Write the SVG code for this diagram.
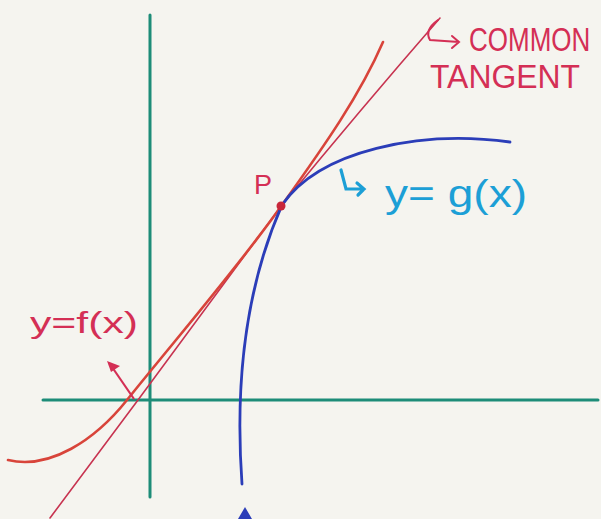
<svg xmlns="http://www.w3.org/2000/svg" width="601" height="519" viewBox="0 0 601 519">
<style>
.ax{stroke:#1d8c78;stroke-width:3;fill:none;stroke-linecap:round}
.f{stroke:#d8443a;stroke-width:2.6;fill:none;stroke-linecap:round}
.t{stroke:#c73350;stroke-width:1.6;fill:none;stroke-linecap:round}
.g{stroke:#2b3db8;stroke-width:2.8;fill:none;stroke-linecap:round}
.red{fill:#d42f55;font-family:"Liberation Sans",sans-serif}
.cyan{fill:#1c9fd6;font-family:"Liberation Sans",sans-serif}
</style>
<rect width="601" height="519" fill="#f5f4ef"/>
<g id="connectors">
<path id="x-axis" class="ax" d="M43 400 L598 400"/>
<path id="y-axis" class="ax" d="M150 15 L150 497"/>
<path id="tangent" class="t" d="M50 518 L138 400 L282 205 Q360 110 440 18"/>
<path id="f-curve" class="f" d="M8 460 C50 470 95 440 127 400 C175 340 240 265 282 205 C325 145 360 95 383 42"/>
<path id="g-curve" class="g" d="M242 484 C236 400 240 300 282 205 C320 150 420 130 510 142"/>
<path id="f-arrow" stroke="#d42f55" stroke-width="2.2" fill="none" d="M134 399 L112 367"/>
<path fill="#d42f55" d="M107 361 L120 366 L111 372 Z"/>
<path id="g-hook" stroke="#1c9fd6" stroke-width="3.2" fill="none" stroke-linecap="round" d="M341 170 L346 189 L364 189 M357 183 L364 189 L358 195"/>
<path id="tan-hook" stroke="#d42f55" stroke-width="2" fill="none" stroke-linecap="round" d="M438 20 Q424 30 430 40 L459 42 M452 36 L459 42 L452 48"/>
<path id="bottom-arrow" fill="#2b3db8" d="M245 507 L238 519 L252 519 Z"/>
</g>
<g id="P">
<circle cx="281" cy="206" r="4.5" fill="#c8263a"/>
<text class="red" x="254" y="194" font-size="27">P</text>
</g>
<g id="label-g">
<text class="cyan" x="385" y="207" font-size="38" textLength="142" lengthAdjust="spacingAndGlyphs">y= g(x)</text>
</g>
<g id="label-f">
<text class="red" x="30" y="333" font-size="30" textLength="108" lengthAdjust="spacingAndGlyphs">y=f(x)</text>
</g>
<g id="label-tangent">
<text class="red" transform="translate(469 51) scale(1 1.3)" x="0" y="0" font-size="26">COMMON</text>
<text class="red" x="430" y="88" font-size="34" textLength="150" lengthAdjust="spacingAndGlyphs">TANGENT</text>
</g>
</svg>
